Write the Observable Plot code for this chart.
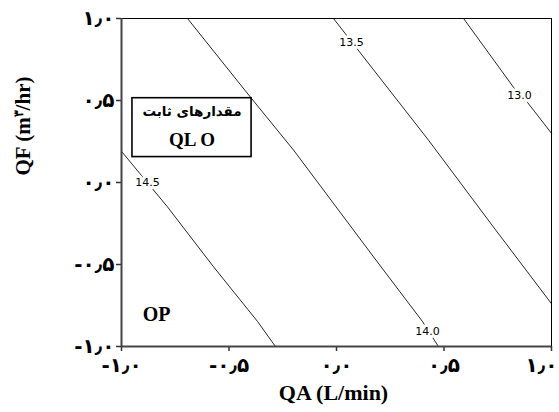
<!DOCTYPE html>
<html>
<head>
<meta charset="utf-8">
<script src="https://cdn.jsdelivr.net/npm/d3@7"></script>
<script src="https://cdn.jsdelivr.net/npm/@observablehq/plot@0.6"></script>
<style>
  html, body { margin: 0; padding: 0; background: #fff; }
</style>
</head>
<body>
<div id="chart"></div>
<script>
// ---- data ----
const tickValues = [-1, -0.5, 0, 0.5, 1];
const tickLabels = ["-\u06F1\u066B\u06F0", "-\u06F0\u066B\u06F5", "\u06F0\u066B\u06F0", "\u06F0\u066B\u06F5", "\u06F1\u066B\u06F0"];

const levels = ["14.5", "14.0", "13.5", "13.0"];
const line145 = [[-1.0, 0.19], [-0.786, -0.149], [-0.572, -0.514], [-0.367, -0.848], [-0.284, -1.0]];
const line140 = [[-0.693, 1.0], [-0.40, 0.52], [-0.20, 0.198], [0.172, -0.453], [0.40, -0.848], [0.474, -1.0]];
const line135 = [[-0.014, 1.0], [0.428, 0.258], [0.74, -0.289], [1.0, -0.739]];
const line130 = [[0.591, 1.0], [0.823, 0.581], [0.888, 0.489], [1.0, 0.30]];
const labelX = [-0.879, 0.423, 0.070, 0.851];
const labelY = [0.003, -0.909, 0.854, 0.532];

const boxTitle = "مقدارهای ثابت";
const boxSub = "QL O";
const boxX = [-0.949, -0.395];
const boxY = [0.155, 0.514];
const cornerText = "OP";
const cornerPos = [-0.837, -0.805];

const xTitle = "QA (L/min)";
const yTitle = "QF (m\u06F3/hr)";

// ---- build tables ----
const lines = [line145, line140, line135, line130];
const contourPts = lines.flatMap((pts, i) => pts.map(([x, y]) => ({x, y, level: levels[i]})));
const contourLabels = levels.map((t, i) => ({x: labelX[i], y: labelY[i], text: t}));
const fmt = d => tickLabels[tickValues.indexOf(d)];
const axisFont = {fontSize: 20, fontWeight: "bold", fontFamily: "DejaVu Sans", stroke: "#333", strokeWidth: 1.5, label: null};

const chart = Plot.plot({
  width: 559,
  height: 412,
  marginLeft: 121,
  marginRight: 8,
  marginTop: 18,
  marginBottom: 66,
  style: {background: "#fff", color: "#000"},
  x: {domain: [-1, 1], label: null},
  y: {domain: [-1, 1], label: null},
  marks: [
    Plot.line(contourPts, {x: "x", y: "y", z: "level", stroke: "#111", strokeWidth: 0.9}),
    Plot.text(contourLabels, {x: "x", y: "y", text: "text", fill: "#000", stroke: "#fff", strokeWidth: 6,
      fontSize: 11, fontFamily: "DejaVu Sans", letterSpacing: 0.4}),
    Plot.rect([0], {x1: () => boxX[0], x2: () => boxX[1], y1: () => boxY[0], y2: () => boxY[1],
      fill: "#fff", stroke: "#000", strokeWidth: 1.6}),
    Plot.text([boxTitle], {x: () => (boxX[0] + boxX[1]) / 2, y: () => 0.432, text: d => d,
      fontSize: 13.5, fontWeight: "bold", fontFamily: "DejaVu Sans"}),
    Plot.text([boxSub], {x: () => (boxX[0] + boxX[1]) / 2, y: () => 0.262, text: d => d,
      fontSize: 19, fontWeight: "bold", fontFamily: "Liberation Serif"}),
    Plot.text([cornerText], {x: () => cornerPos[0], y: () => cornerPos[1], text: d => d,
      fontSize: 20, fontWeight: "bold", fontFamily: "Liberation Serif", letterSpacing: 1}),
    Plot.frame({stroke: "#000", strokeWidth: 1}),
    Plot.axisX(tickValues, {tickSize: 5, tickPadding: 6, tickFormat: d => d === 1 ? "" : fmt(d), ...axisFont}),
    Plot.axisX(tickValues.slice(4), {tickSize: 0, tickPadding: 11, dx: -10, tickFormat: fmt, ...axisFont}),
    Plot.axisY(tickValues, {tickSize: 5, tickPadding: 2, tickFormat: fmt, ...axisFont}),
    Plot.ruleX([-1], {stroke: "#444", strokeWidth: 2}),
    Plot.ruleY([-1], {stroke: "#444", strokeWidth: 2}),
    Plot.text([xTitle], {frameAnchor: "bottom", dy: 53, dx: -3, text: d => d,
      fontSize: 22, fontWeight: "bold", fontFamily: "Liberation Serif"}),
    Plot.text([yTitle], {frameAnchor: "left", dx: -98, dy: -7, rotate: -90, text: d => d,
      fontSize: 21, fontWeight: "bold", fontFamily: "Liberation Serif"})
  ]
});

// superscript the ۳ in the y title
d3.select(chart).selectAll("text").filter(function () { return this.textContent === yTitle; })
  .each(function () {
    const t = d3.select(this);
    t.text(null);
    t.append("tspan").text("QF (m");
    t.append("tspan").attr("baseline-shift", "super").attr("font-size", 13).text("\u06F3");
    t.append("tspan").text("/hr)");
  });

document.getElementById("chart").appendChild(chart);
</script>
</body>
</html>
